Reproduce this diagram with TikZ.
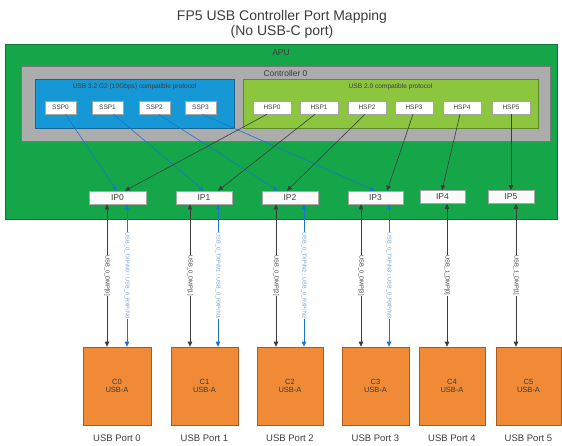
\documentclass[tikz,border=0pt]{standalone}
\usepackage{fontspec}
\setmainfont{Liberation Sans}
\usetikzlibrary{arrows.meta,calc}
\definecolor{apugreen}{RGB}{22,166,74}
\definecolor{apuedge}{RGB}{10,120,50}
\definecolor{ctrlgray}{RGB}{172,172,172}
\definecolor{ctrledge}{RGB}{120,120,120}
\definecolor{ssblue}{RGB}{22,152,214}
\definecolor{ssedge}{RGB}{20,100,150}
\definecolor{hsgreen}{RGB}{140,198,62}
\definecolor{hsedge}{RGB}{90,140,40}
\definecolor{conorange}{RGB}{240,138,54}
\definecolor{conedge}{RGB}{170,90,30}
\definecolor{linkblue}{RGB}{26,118,204}
\definecolor{labblue}{RGB}{110,160,215}
\definecolor{darkline}{RGB}{60,60,60}
\tikzset{
  region/.style={draw, line width=0.8pt, inner sep=0pt},
  portbox/.style={draw=gray!70, fill=white, line width=0.6pt, minimum height=13pt, inner sep=0pt, font=\fontsize{6.5}{7}\selectfont, text=darkline},
  ipbox/.style={draw=gray!70, fill=white!96!gray, line width=0.6pt, minimum height=13pt, inner sep=0pt, font=\fontsize{8.5}{9}\selectfont, text=darkline},
  conbox/.style={draw=conedge, fill=conorange, line width=0.6pt, minimum width=66pt, minimum height=78pt, inner sep=0pt, align=center, font=\fontsize{7.5}{8.5}\selectfont, text=darkline},
  portlab/.style={font=\fontsize{9.5}{10}\selectfont, text=darkline},
  tip/.style={-{Triangle[length=5pt,width=4.5pt]}},
  dtip/.style={{Triangle[length=5pt,width=4.5pt]}-{Triangle[length=5pt,width=4.5pt]}},
  hslink/.style={tip, draw=darkline, line width=0.6pt},
  sslink/.style={tip, draw=linkblue, line width=0.6pt},
  hsvert/.style={dtip, draw=darkline, line width=0.6pt},
  ssvert/.style={dtip, draw=linkblue, line width=0.6pt},
  blab/.style={rotate=-90, fill=white, inner sep=0.6pt, font=\fontsize{5.7}{6}\selectfont, text=darkline},
  ulab/.style={rotate=-90, fill=white, inner sep=0.6pt, font=\fontsize{5.5}{6}\selectfont, text=labblue},
}
\begin{document}
\begin{tikzpicture}[x=1pt,y=-1pt]
\useasboundingbox (0,0) rectangle (562,446);
% title
\node[align=center, font=\fontsize{14}{15}\selectfont, text=darkline] (title) at (282,24.5) {FP5 USB Controller Port Mapping\\(No USB-C port)};
% regions
\node[region, draw=apuedge, fill=apugreen, minimum width=552pt, minimum height=175pt] (apu) at (281,131.5) {};
\node[font=\fontsize{8.5}{9}\selectfont, text=darkline] (apulab) at (281,52.5) {APU};
\node[region, draw=ctrledge, fill=ctrlgray, minimum width=529pt, minimum height=75pt] (ctrl) at (285.5,103.5) {};
\node[font=\fontsize{8.5}{9}\selectfont, text=darkline] (ctrllab) at (285.5,73) {Controller 0};
\node[region, draw=ssedge, fill=ssblue, minimum width=199pt, minimum height=49pt] (ss) at (134.5,103.5) {};
\node[font=\fontsize{6.6}{7}\selectfont, text=darkline] (sslab) at (134.5,86.5) {USB 3.2 G2 (10Gbps) compatible protocol};
\node[region, draw=hsedge, fill=hsgreen, minimum width=295pt, minimum height=49pt] (hs) at (390.5,103.5) {};
\node[font=\fontsize{6.6}{7}\selectfont, text=darkline] (hslab) at (390.5,86.5) {USB 2.0 compatible protocol};
% SSP
\node[portbox, minimum width=31pt] (ssp0) at (60.5,107.5) {SSP0};
\node[portbox, minimum width=31pt] (ssp1) at (107.5,107.5) {SSP1};
\node[portbox, minimum width=31pt] (ssp2) at (154.5,107.5) {SSP2};
\node[portbox, minimum width=31pt] (ssp3) at (200.5,107.5) {SSP3};
% HSP
\node[portbox, minimum width=38pt] (hsp0) at (272,107.5) {HSP0};
\node[portbox, minimum width=38pt] (hsp1) at (319,107.5) {HSP1};
\node[portbox, minimum width=38pt] (hsp2) at (367,107.5) {HSP2};
\node[portbox, minimum width=38pt] (hsp3) at (414,107.5) {HSP3};
\node[portbox, minimum width=38pt] (hsp4) at (462,107.5) {HSP4};
\node[portbox, minimum width=38pt] (hsp5) at (511,107.5) {HSP5};
% IP
\node[ipbox, minimum width=57pt] (ip0) at (117.5,197.5) {IP0};
\node[ipbox, minimum width=56pt] (ip1) at (204,197.5) {IP1};
\node[ipbox, minimum width=56pt] (ip2) at (290,197.5) {IP2};
\node[ipbox, minimum width=55pt] (ip3) at (375.5,197.5) {IP3};
\node[ipbox, minimum width=45pt] (ip4) at (442.5,197) {IP4};
\node[ipbox, minimum width=46pt] (ip5) at (511,197) {IP5};
% connectors
\node[conbox, minimum width=68pt] (c0) at (117,386) {C0\\USB-A};
\node[conbox, minimum width=67pt] (c1) at (204.5,386) {C1\\USB-A};
\node[conbox] (c2) at (290,386) {C2\\USB-A};
\node[conbox, minimum width=67pt] (c3) at (375.5,386) {C3\\USB-A};
\node[conbox] (c4) at (452,386) {C4\\USB-A};
\node[conbox, minimum width=65pt] (c5) at (528.5,386) {C5\\USB-A};
\foreach \i in {0,...,5}{
  \node[portlab] (pl\i) at ($(c\i.south)+(0,13)$) {USB Port \i};
}
% SS links
\draw[sslink] ($(ssp0.south)+(5,0)$) -- ($(ip0.north)+(-0.5,0)$);
\draw[sslink] ($(ssp1.south)+(6,0)$) -- ($(ip1.north)+(0,0)$);
\draw[sslink] ($(ssp2.south)+(4,0)$) -- ($(ip2.north)+(-12,0)$);
\draw[sslink] ($(ssp3.south)+(2,0)$) -- ($(ip3.north)+(-0.5,0)$);
% HS links
\draw[hslink] ($(hsp0.south)+(-5,0)$) -- ($(ip0.north)+(7.5,0)$);
\draw[hslink] ($(hsp1.south)+(-4,0)$) -- ($(ip1.north)+(14,0)$);
\draw[hslink] ($(hsp2.south)+(-2,0)$) -- ($(ip2.north)+(-3,0)$);
\draw[hslink] ($(hsp3.south)+(-1,0)$) -- ($(ip3.north)+(11.5,0)$);
\draw[hslink] ($(hsp4.south)+(-2,0)$) -- ($(ip4.north)+(-0.5,0)$);
\draw[hslink] (hsp5.south) -- (ip5.north);
% vertical links
\draw[hsvert] ($(ip0.south)+(-10.5,0)$) -- node[blab]{USB\_0\_DMP[0]} ($(ip0.south |- c0.north)+(-10.5,0)$);
\draw[ssvert] ($(ip0.south)+(9.5,0)$) -- node[ulab]{USB\_0\_TXP/N0 : USB\_0\_RXP/N0} ($(ip0.south |- c0.north)+(9.5,0)$);
\draw[hsvert] ($(ip1.south)+(-14,0)$) -- node[blab]{USB\_0\_DMP[1]} ($(ip1.south |- c1.north)+(-14,0)$);
\draw[ssvert] ($(ip1.south)+(14,0)$) -- node[ulab]{USB\_0\_TXP/N1 : USB\_0\_RXP/N1} ($(ip1.south |- c1.north)+(14,0)$);
\draw[hsvert] ($(ip2.south)+(-14,0)$) -- node[blab]{USB\_0\_DMP[2]} ($(ip2.south |- c2.north)+(-14,0)$);
\draw[ssvert] ($(ip2.south)+(14,0)$) -- node[ulab]{USB\_0\_TXP/N2 : USB\_0\_RXP/N2} ($(ip2.south |- c2.north)+(14,0)$);
\draw[hsvert] ($(ip3.south)+(-14.5,0)$) -- node[blab]{USB\_0\_DMP[3]} ($(ip3.south |- c3.north)+(-14.5,0)$);
\draw[ssvert] ($(ip3.south)+(13.5,0)$) -- node[ulab]{USB\_0\_TXP/N3 : USB\_0\_RXP/N3} ($(ip3.south |- c3.north)+(13.5,0)$);
\draw[hsvert] ($(ip4.south)+(4.5,0)$) -- node[blab]{USB\_1\_DMP[0]} ($(ip4.south |- c4.north)+(4.5,0)$);
\draw[hsvert] ($(ip5.south)+(5,0)$) -- node[blab]{USB\_1\_DMP[1]} ($(ip5.south |- c5.north)+(5,0)$);
\end{tikzpicture}
\end{document}
